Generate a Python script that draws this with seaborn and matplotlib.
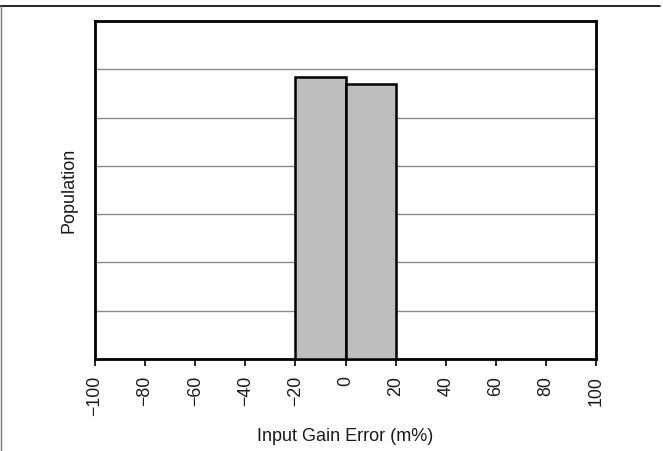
import matplotlib
matplotlib.use("Agg")
import matplotlib.pyplot as plt
from matplotlib.lines import Line2D
import seaborn as sns
import numpy as np

# Data
bin_edges = [-20, 0, 20]
bin_centers = [-10, 10]
counts = [5.83, 5.69]
x_ticks = [-100, -80, -60, -40, -20, 0, 20, 40, 60, 80, 100]
x_tick_labels = ["\u2212100", "\u221280", "\u221260", "\u221240", "\u221220", "0", "20", "40", "60", "80", "100"]
y_grid = [1, 2, 3, 4, 5, 6]

sns.set_style("white")
plt.rcParams['font.family'] = ['Liberation Sans', 'DejaVu Sans']

fig = plt.figure(figsize=(6.63, 4.51), dpi=100)
ax = fig.add_axes([95/663, 1-359/451, (596-95)/663, (359-21)/451])

sns.histplot(x=bin_centers, weights=counts, bins=bin_edges, ax=ax,
             color="#bebebf", edgecolor="black", linewidth=1.8, alpha=1, zorder=3)

ax.set_xlim(-100, 100)
ax.set_ylim(0, 7)
ax.set_yticks(y_grid)
ax.set_yticklabels([])
ax.tick_params(axis='y', length=0)
ax.yaxis.grid(True, color="#8a8a8a", linewidth=1.0, zorder=0)
ax.xaxis.grid(False)
ax.set_axisbelow(True)

ax.set_xticks(x_ticks)
ax.set_xticklabels(x_tick_labels, rotation=90, fontsize=12.8, color="#1a1a1a")
ax.tick_params(axis='x', direction='out', length=5, width=1.2, color="black", pad=7, bottom=True)

for s in ax.spines.values():
    s.set_visible(True)
    s.set_color("black")
    s.set_linewidth(2.0)

ax.set_xlabel("Input Gain Error (m%)", fontsize=13, color="#1a1a1a", labelpad=8.5)
ax.set_ylabel("Population", fontsize=13, color="#1a1a1a", labelpad=9)

# figure frame lines
fig.add_artist(Line2D([0, 660/663], [1-5.5/451, 1-5.5/451], transform=fig.transFigure, color="black", linewidth=1.2))
fig.add_artist(Line2D([0.5/663, 0.5/663], [0, 1-5.5/451], transform=fig.transFigure, color="#777777", linewidth=1.0))

fig.savefig("out.png", dpi=100)
